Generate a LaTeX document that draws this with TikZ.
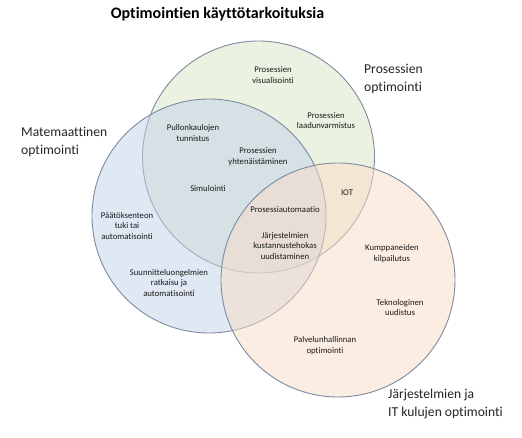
\documentclass[tikz,border=0pt]{standalone}
\usepackage{fontspec}
\setmainfont{Carlito}[Ligatures=NoCommon]
\begin{document}
\begin{tikzpicture}[x=1pt,y=-1pt,
  ring/.style={draw=ringc, line width=0.9pt, fill opacity=0.5},
  small/.style={font=\fontsize{8.7}{10.7}\selectfont, align=center, text=black!90, inner sep=0pt},
  big/.style={font=\fontsize{13.6}{17.5}\selectfont, align=left, text=black!85, inner sep=0pt, anchor=north west},
  title/.style={font=\fontsize{16}{19}\selectfont\bfseries, inner sep=0pt}]
\definecolor{ringc}{RGB}{125,138,160}
\definecolor{greenf}{RGB}{218,231,196}
\definecolor{bluef}{RGB}{194,210,234}
\definecolor{orangef}{RGB}{250,220,198}
\useasboundingbox (0,0) rectangle (522,438);
\fill[white] (0,0) rectangle (522,438);
% circles
\path[ring, fill=greenf] (258.5,157) circle[radius=116pt];
\path[ring, fill=bluef] (209,216) circle[radius=117pt];
\path[ring, fill=orangef] (338,280) circle[radius=117pt];
% title
\node[title] (t) at (217.5,14) {Optimointien käyttötarkoituksia};
% big labels
\node[big] (lp) at (364,64) {Prosessien\\optimointi};
\node[big] (lm) at (21,127) {Matemaattinen\\optimointi};
\node[big] (lj) at (388,389) {Järjestelmien ja\\IT kulujen optimointi};
% small labels
\node[small] (a1) at (273,75) {Prosessien\\visualisointi};
\node[small] (a2) at (326,120.5) {Prosessien\\laadunvarmistus};
\node[small] (a3) at (193,133) {Pullonkaulojen\\tunnistus};
\node[small] (a4) at (258,157) {Prosessien\\yhtenäistäminen};
\node[small] (a5) at (208,189) {Simulointi};
\node[small] (a6) at (347,193) {IOT};
\node[small] (a7) at (285,210) {Prosessiautomaatio};
\node[small] (a8) at (285,246) {Järjestelmien\\kustannustehokas\\uudistaminen};
\node[small] (a9) at (127,226) {Päätöksenteon\\tuki tai\\automatisointi};
\node[small] (a10) at (169,283) {Suunnitteluongelmien\\ratkaisu ja\\automatisointi};
\node[small] (a11) at (392,253.5) {Kumppaneiden\\kilpailutus};
\node[small] (a12) at (400,307.5) {Teknologinen\\uudistus};
\node[small] (a13) at (325,345.5) {Palvelunhallinnan\\optimointi};
\end{tikzpicture}
\end{document}
